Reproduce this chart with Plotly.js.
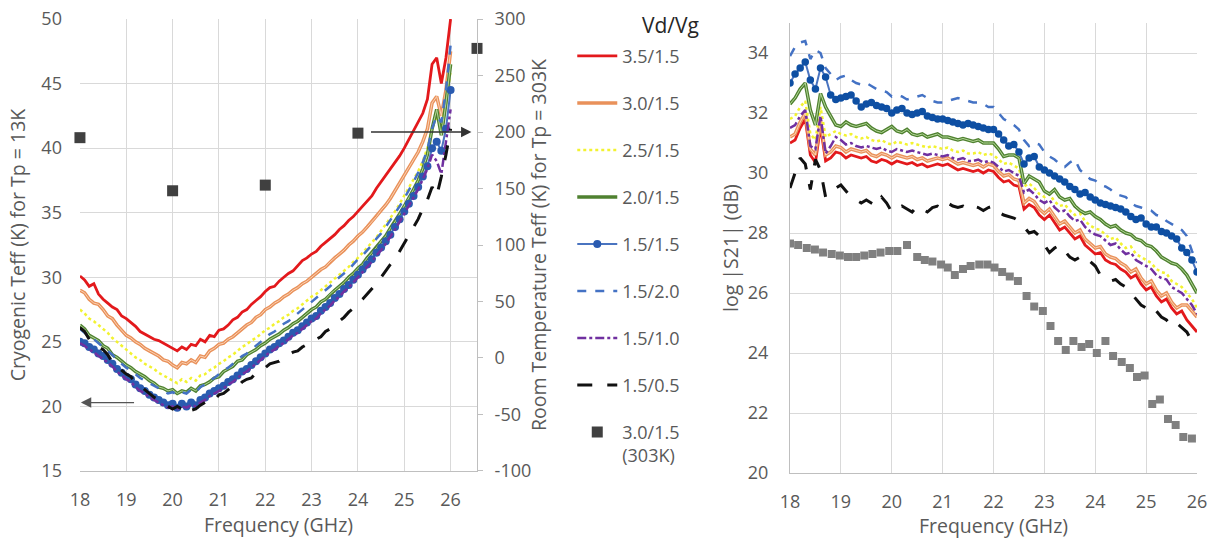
<!DOCTYPE html>
<html>
<head>
<meta charset="utf-8">
<script src="https://cdn.plot.ly/plotly-3.0.1.min.js"></script>
<style>html,body{margin:0;padding:0;background:#fff;}#chart{width:1215px;height:539px;}</style>
</head>
<body>
<div id="chart"></div>
<script>
// ---------- DATA ----------
const freq = [18.0,18.1,18.2,18.3,18.4,18.5,18.6,18.7,18.8,18.9,19.0,19.1,19.2,19.3,19.4,19.5,19.6,19.7,19.8,19.9,
20.0,20.1,20.2,20.3,20.4,20.5,20.6,20.7,20.8,20.9,21.0,21.1,21.2,21.3,21.4,21.5,21.6,21.7,21.8,21.9,
22.0,22.1,22.2,22.3,22.4,22.5,22.6,22.7,22.8,22.9,23.0,23.1,23.2,23.3,23.4,23.5,23.6,23.7,23.8,23.9,
24.0,24.1,24.2,24.3,24.4,24.5,24.6,24.7,24.8,24.9,25.0,25.1,25.2,25.3,25.4,25.5,25.6,25.7,25.8,25.9,26.0];

const seriesNames = ["3.5/1.5","3.0/1.5","2.5/1.5","2.0/1.5","1.5/1.5","1.5/2.0","1.5/1.0","1.5/0.5"];

// Cryogenic Teff (K), left panel
const teff_35_15 = [30.1,29.8,29.3,29.5,28.7,28.3,28.0,27.7,27.5,27.0,26.8,26.5,26.2,25.8,25.6,25.4,25.2,25.1,24.9,24.7,
24.5,24.3,24.6,24.4,24.8,24.7,25.2,25.0,25.5,25.4,25.9,26.0,26.3,26.7,26.9,27.3,27.5,27.9,28.2,28.5,
28.9,29.2,29.3,29.7,30.0,30.3,30.5,30.9,31.3,31.5,31.8,32.0,32.4,32.7,33.0,33.3,33.7,34.0,34.4,34.7,
35.1,35.5,35.9,36.3,36.9,37.4,37.9,38.4,38.9,39.4,40.0,40.7,41.3,42.0,42.7,43.8,46.5,47.0,45.0,47.0,50.0];
const teff_30_15 = [29.0,28.8,28.3,28.0,27.9,27.5,27.0,26.8,26.3,25.9,25.5,25.3,25.0,24.8,24.5,24.3,24.1,23.9,23.6,23.5,
23.2,23.0,23.4,23.3,23.6,23.4,23.9,23.8,24.3,24.5,24.8,24.9,25.2,25.4,25.7,26.0,26.3,26.5,26.9,27.1,
27.5,27.7,28.0,28.2,28.5,28.7,29.0,29.2,29.5,29.7,30.0,30.3,30.6,30.8,31.2,31.5,31.8,32.1,32.5,32.8,
33.2,33.5,33.9,34.3,34.7,35.2,35.6,36.1,36.7,37.2,37.8,38.4,39.0,39.7,40.5,41.5,43.5,44.0,42.5,44.5,47.5];
const teff_25_15 = [27.5,27.2,26.8,26.6,26.3,26.0,25.7,25.3,25.0,24.7,24.4,24.1,23.8,23.6,23.3,23.1,22.9,22.6,22.4,22.2,
22.0,21.8,22.1,21.9,22.2,22.0,22.4,22.5,22.8,23.0,23.3,23.5,23.8,24.0,24.3,24.6,24.8,25.1,25.3,25.6,
25.9,26.1,26.4,26.6,26.9,27.1,27.4,27.6,27.9,28.2,28.5,28.7,29.0,29.3,29.6,29.9,30.2,30.5,30.8,31.2,
31.5,31.9,32.3,32.7,33.1,33.6,34.1,34.6,35.1,35.7,36.3,36.9,37.5,38.2,39.0,40.0,41.5,42.5,41.5,43.5,46.0];
const teff_20_15 = [26.3,26.0,25.5,25.3,25.1,24.7,24.5,24.0,23.8,23.5,23.2,23.0,22.7,22.5,22.3,22.0,21.8,21.5,21.4,21.2,
21.3,21.0,21.2,21.1,21.4,21.2,21.6,21.7,21.9,22.2,22.3,22.7,22.9,23.1,23.5,23.6,24.0,24.2,24.4,24.7,
24.9,25.2,25.4,25.6,25.9,26.1,26.4,26.6,26.9,27.2,27.5,27.7,28.1,28.3,28.7,29.0,29.3,29.6,30.0,30.3,
30.7,31.0,31.5,31.9,32.3,32.8,33.2,33.8,34.3,34.9,35.5,36.1,36.8,37.5,38.4,39.5,41.5,43.0,41.0,43.5,46.5];
const teff_15_15 = [25.0,24.9,24.6,24.4,24.1,23.9,23.6,23.3,22.9,22.6,22.3,22.1,21.7,21.4,21.2,20.9,20.7,20.5,20.3,20.1,
20.2,19.9,20.2,20.0,20.3,20.1,20.5,20.7,21.0,21.2,21.4,21.6,21.9,22.1,22.4,22.7,22.9,23.2,23.5,23.8,
24.1,24.4,24.6,24.9,25.1,25.4,25.7,25.9,26.2,26.5,26.8,27.0,27.4,27.7,28.0,28.4,28.7,29.1,29.4,29.8,
30.2,30.6,31.0,31.4,31.9,32.3,32.8,33.3,33.9,34.5,35.1,35.7,36.3,37.0,37.8,38.6,40.0,40.5,39.8,41.5,44.5];
const teff_15_20 = [26.0,25.7,25.4,25.2,24.9,24.6,24.3,24.0,23.6,23.3,23.0,22.8,22.5,22.2,22.0,21.8,21.6,21.4,21.2,21.0,
21.1,20.9,21.1,21.0,21.3,21.1,21.5,21.7,22.0,22.2,22.5,22.8,23.0,23.3,23.6,23.9,24.1,24.4,24.7,25.0,
25.3,25.6,25.8,26.1,26.4,26.6,26.9,27.2,27.5,27.8,28.1,28.4,28.7,29.0,29.3,29.7,30.0,30.3,30.6,31.0,
31.4,31.7,32.1,32.5,33.0,33.4,33.9,34.4,35.0,35.5,36.1,36.7,37.4,38.1,38.9,39.9,41.5,42.5,42.0,44.5,48.0];
const teff_15_10 = [24.9,24.7,24.4,24.2,23.9,23.7,23.4,23.1,22.7,22.4,22.1,21.9,21.5,21.2,21.0,20.7,20.5,20.3,20.1,19.9,
20.0,19.8,20.0,19.9,20.1,20.0,20.3,20.5,20.8,21.0,21.2,21.4,21.7,21.9,22.2,22.5,22.7,23.0,23.3,23.6,
23.9,24.2,24.4,24.7,24.9,25.2,25.5,25.7,26.0,26.3,26.6,26.8,27.2,27.5,27.8,28.2,28.5,28.9,29.2,29.6,
30.0,30.4,30.8,31.2,31.7,32.1,32.6,33.1,33.7,34.3,34.9,35.5,36.1,36.8,37.6,38.4,39.5,39.0,38.0,40.5,43.0];
const teff_15_05 = [26.1,25.8,25.2,25.0,24.6,24.4,24.0,23.4,23.1,22.8,22.5,22.3,21.8,21.6,21.3,21.0,20.7,20.5,20.2,20.0,
19.8,20.0,19.8,20.1,19.7,19.8,20.1,20.3,20.6,20.5,20.9,21.0,21.3,21.6,21.5,21.9,22.1,22.2,22.6,22.8,
23.0,23.3,23.4,23.5,23.8,24.0,24.2,24.3,24.6,24.8,25.1,25.2,25.4,25.8,26.0,26.3,26.6,26.9,27.3,27.6,
28.0,28.3,28.7,29.1,29.5,30.0,30.5,31.0,31.4,32.0,32.6,33.2,33.8,34.5,35.3,36.0,37.0,36.3,37.8,39.5,41.5];

// Room temperature Teff (K), 3.0/1.5 at 303K (right axis of left panel)
const warmFreq = [18, 20, 22, 24, 26.57];
const warmTeff = [195, 148, 153, 199, 274];
const roomTickVals = [-100,-50,0,50,100,150,200,250,300];
const roomTickText = ["-100","-50","0","50","100","150","200","250","300"];

// log|S21| (dB), right panel
const s21_35_15 = [31.0,31.1,31.5,31.8,30.6,30.35,31.55,30.4,30.5,30.7,30.65,30.5,30.6,30.55,30.5,30.55,30.4,30.35,30.45,30.4,
30.3,30.4,30.35,30.3,30.35,30.25,30.3,30.2,30.25,30.3,30.25,30.3,30.2,30.1,30.15,30.1,30.05,30.1,30.0,30.1,
30.05,29.85,29.7,29.75,29.6,29.55,28.8,28.95,28.85,28.6,28.45,28.6,28.35,28.1,28.2,28.0,27.8,27.9,27.6,27.45,
27.3,27.35,27.1,27.0,26.95,26.8,26.7,26.5,26.6,26.3,26.1,26.2,25.9,25.7,25.8,25.5,25.3,25.4,25.1,24.9,24.7];
const s21_30_15 = [31.2,31.3,31.7,32.0,30.8,30.6,31.75,30.6,30.7,30.9,30.85,30.7,30.8,30.75,30.7,30.75,30.6,30.55,30.65,30.6,
30.5,30.6,30.55,30.5,30.55,30.45,30.5,30.4,30.45,30.5,30.45,30.5,30.4,30.3,30.35,30.3,30.25,30.3,30.2,30.3,
30.25,30.05,29.9,29.95,29.8,29.75,29.0,29.15,29.05,28.8,28.65,28.8,28.55,28.3,28.4,28.2,28.0,28.1,27.8,27.65,
27.5,27.55,27.3,27.2,27.15,27.0,26.9,26.7,26.8,26.5,26.3,26.4,26.1,25.9,26.0,25.7,25.5,25.6,25.6,25.4,25.2];
const s21_25_15 = [31.8,31.9,32.2,32.4,31.3,31.1,32.2,31.2,31.3,31.4,31.3,31.25,31.3,31.2,31.15,31.2,31.1,31.05,31.1,31.0,
30.95,31.05,31.0,30.95,31.0,30.95,30.9,30.85,30.9,30.85,30.8,30.85,30.75,30.7,30.75,30.65,30.65,30.7,30.6,30.65,
30.6,30.45,30.3,30.35,30.25,30.15,29.55,29.65,29.5,29.3,29.2,29.3,29.05,28.9,28.95,28.75,28.6,28.65,28.4,28.25,
28.15,28.1,27.95,27.8,27.85,27.65,27.5,27.55,27.3,27.2,27.1,27.0,26.8,26.7,26.65,26.4,26.3,26.2,26.0,25.8,25.5];
const s21_20_15 = [32.3,32.5,32.8,33.0,32.1,31.6,32.65,32.2,31.9,31.6,31.55,31.7,31.6,31.55,31.6,31.65,31.5,31.4,31.35,31.45,
31.55,31.4,31.35,31.45,31.3,31.25,31.3,31.2,31.25,31.3,31.2,31.2,31.15,31.1,31.15,31.1,31.05,31.1,31.0,31.0,
31.0,30.8,30.55,30.6,30.6,30.5,29.65,29.9,29.8,29.7,29.4,29.3,29.45,29.2,29.1,29.15,28.9,28.75,28.65,28.7,
28.55,28.45,28.3,28.2,28.25,28.1,28.0,27.95,27.8,27.75,27.6,27.55,27.4,27.2,27.1,27.0,26.95,26.8,26.6,26.3,26.0];
const s21_15_15 = [33.0,33.3,33.5,33.7,33.1,32.8,33.5,33.2,32.6,32.45,32.5,32.55,32.6,32.4,32.2,32.3,32.35,32.25,32.2,32.15,
32.0,32.1,32.15,32.0,31.95,32.0,32.05,31.9,31.85,31.8,31.8,31.75,31.7,31.65,31.6,31.65,31.6,31.55,31.5,31.45,
31.45,31.3,31.1,30.9,30.95,30.7,30.3,30.5,30.55,30.2,30.1,30.0,29.9,29.8,29.7,29.55,29.45,29.3,29.35,29.2,
29.1,29.0,28.95,28.9,28.85,28.8,28.7,28.55,28.45,28.5,28.3,28.2,28.2,28.05,28.0,27.9,27.8,27.5,27.35,27.1,26.7];
const s21_15_20 = [33.9,34.2,34.35,34.4,33.8,34.1,34.0,33.5,33.3,33.1,33.2,33.25,33.1,33.0,32.95,33.0,32.9,32.8,32.75,32.7,
32.55,32.6,32.55,32.45,32.5,32.55,32.6,32.5,32.4,32.35,32.35,32.4,32.45,32.5,32.45,32.4,32.35,32.35,32.3,32.2,
32.2,32.0,31.8,31.7,31.6,31.45,31.1,30.9,31.0,30.95,30.7,30.55,30.45,30.3,30.2,30.35,30.45,30.1,29.95,29.8,
29.75,29.6,29.55,29.45,29.3,29.25,29.2,29.0,28.9,28.85,28.8,28.75,28.6,28.55,28.4,28.3,28.2,28.1,27.9,27.4,27.0];
const s21_15_10 = [31.5,31.6,31.9,32.1,30.9,30.8,31.9,30.65,30.9,31.2,31.1,30.95,31.0,30.9,30.85,30.9,30.85,30.8,30.85,30.75,
30.7,30.8,30.75,30.7,30.75,30.7,30.65,30.6,30.65,30.6,30.55,30.6,30.5,30.45,30.5,30.4,30.4,30.45,30.35,30.4,
30.35,30.2,30.05,30.1,30.0,29.9,29.35,29.45,29.3,29.1,29.0,29.1,28.85,28.7,28.75,28.55,28.4,28.45,28.2,28.05,
27.95,27.9,27.75,27.6,27.65,27.45,27.3,27.35,27.1,27.0,26.9,26.8,26.6,26.5,26.45,26.2,26.1,26.0,25.8,25.6,25.3];
const s21_15_05 = [29.5,30.0,30.5,30.3,29.45,30.45,30.1,29.2,29.4,29.5,29.6,29.4,29.2,29.1,29.0,29.1,29.0,28.9,29.2,29.0,
28.7,28.8,28.9,28.8,28.7,28.9,28.8,28.7,28.85,28.9,28.8,29.0,28.9,28.85,28.9,28.8,28.9,28.85,28.75,28.85,
28.9,28.7,28.6,28.55,28.5,28.4,28.2,28.0,28.05,27.9,27.6,27.35,27.5,27.6,27.4,27.2,27.1,27.2,27.0,27.05,
26.9,26.6,26.5,26.4,26.45,26.3,26.2,26.0,25.8,25.6,25.5,25.3,25.4,25.2,25.1,24.9,25.0,24.85,24.7,24.4,24.2];

// log|S21| 3.0/1.5 at 303K
const warmS21Freq = [18.0,18.16,18.33,18.49,18.65,18.82,18.98,19.14,19.3,19.46,19.62,19.78,19.95,20.11,20.3,20.5,20.65,20.8,20.97,21.1,
21.24,21.4,21.55,21.72,21.88,22.02,22.17,22.32,22.48,22.65,22.8,22.97,23.12,23.27,23.42,23.57,23.73,23.88,24.03,24.2,
24.35,24.52,24.68,24.82,24.97,25.12,25.27,25.43,25.58,25.73,25.9];
const warmS21 = [27.65,27.6,27.5,27.45,27.35,27.3,27.25,27.2,27.2,27.25,27.3,27.35,27.4,27.4,27.6,27.2,27.1,27.05,26.95,26.85,
26.6,26.8,26.9,26.95,26.95,26.85,26.7,26.55,26.4,25.9,25.55,25.4,24.9,24.4,24.1,24.4,24.2,24.3,24.0,24.4,
23.9,23.7,23.5,23.2,23.25,22.3,22.45,21.8,21.6,21.2,21.15];

const xTicks = [18,19,20,21,22,23,24,25,26];

// ---------- STYLES ----------
const FONT = "Open Sans, Noto Sans, sans-serif";
const TXT = "#595959";
const GRID = "#D9D9D9";

const teffL = [teff_35_15, teff_30_15, teff_25_15, teff_20_15, teff_15_15, teff_15_20, teff_15_10, teff_15_05];
const s21R = [s21_35_15, s21_30_15, s21_25_15, s21_20_15, s21_15_15, s21_15_20, s21_15_10, s21_15_05];
const styles = [
  {line:{color:"#E3191C", width:2.8}},
  {line:{color:"#E9915A", width:3.5}, inner:"#FBD3B6"},
  {line:{color:"#F2F230", width:2.5, dash:"dot"}},
  {line:{color:"#4F8130", width:3.5}, inner:"#B5D89A"},
  {line:{color:"#4A74C0", width:2}, marker:{color:"#2A5BB0", size:8}},
  {line:{color:"#4472C4", width:2.5, dash:"dash"}},
  {line:{color:"#7030A0", width:2.5, dash:"dashdot"}},
  {line:{color:"#111111", width:3, dash:"longdash"}}
];

const traces = [];
seriesNames.forEach((nm, i) => {
  const st = styles[i];
  const base = {
    x: freq, y: teffL[i], name: nm, type: "scatter",
    mode: st.marker ? "lines+markers" : "lines",
    line: st.line, legendgroup: "g"+i, xaxis: "x", yaxis: "y", showlegend: true
  };
  if (st.marker) base.marker = st.marker;
  traces.push(base);
  if (st.inner) traces.push({x: freq, y: teffL[i], mode:"lines", line:{color:st.inner, width:1},
     legendgroup:"g"+i, showlegend:false, xaxis:"x", yaxis:"y", hoverinfo:"skip"});
});
// right panel
seriesNames.forEach((nm, i) => {
  const st = styles[i];
  const t = {
    x: freq, y: s21R[i], name: nm, type: "scatter",
    mode: st.marker ? "lines+markers" : "lines",
    line: st.line, legendgroup: "g"+i, xaxis: "x2", yaxis: "y3", showlegend: false
  };
  if (st.marker) t.marker = {color:"#0E4FA3", size:7.5};
  traces.push(t);
  if (st.inner) traces.push({x: freq, y: s21R[i], mode:"lines", line:{color:st.inner, width:1},
     legendgroup:"g"+i, showlegend:false, xaxis:"x2", yaxis:"y3", hoverinfo:"skip"});
});
traces.push({x: warmFreq, y: warmTeff, name: "3.0/1.5<br>(303K)", mode:"markers",
  marker:{symbol:"square", color:"#404040", size:11}, legendgroup:"g8",
  xaxis:"x", yaxis:"y2", cliponaxis:false});
traces.push({x: warmS21Freq, y: warmS21, name: "3.0/1.5 (303K)", mode:"markers",
  marker:{symbol:"square", color:"#808080", size:8}, legendgroup:"g8", showlegend:false,
  xaxis:"x2", yaxis:"y3"});

const tickFont = {family: FONT, size: 18, color: TXT};
const titleFont = {family: FONT, size: 19.5, color: TXT};

const layout = {
  width: 1215, height: 539,
  margin: {l:0, r:0, t:0, b:0},
  paper_bgcolor: "#fff", plot_bgcolor: "#fff",
  font: {family: FONT, color: TXT},
  showlegend: true,
  legend: {x: 0.471, y: 0.93, xanchor:"left", yanchor:"top", traceorder:"grouped", valign:"top",
    tracegroupgap: 20.6, font:{family:FONT, size:18, color:TXT}, bgcolor:"rgba(0,0,0,0)", itemwidth:40},
  xaxis: {domain:[0.0658, 0.3926], range:[18, 26.57], tickvals: xTicks, showgrid:true, gridcolor:GRID,
    showline:true, linecolor:"#BFBFBF", zeroline:false, ticks:"", tickfont:tickFont, automargin:false,
    ticklabelstandoff: 12, anchor:"y",
    title:{text:"Frequency (GHz)", font:titleFont, standoff: 1}},
  yaxis: {domain:[0.1262, 0.9647], range:[15, 50], dtick:5, tick0:15, showgrid:true, gridcolor:GRID,
    showline:false, zeroline:false, ticks:"", tickfont:tickFont, automargin:false, ticklabelstandoff: 17,
    anchor:"x", title:{text:"Cryogenic Teff (K) for Tp = 13K", font:titleFont, standoff: 10}},
  yaxis2: {overlaying:"y", side:"right", anchor:"x", range:[-100, 300],
    tickvals: roomTickVals, ticktext: roomTickText,
    showgrid:false, showline:true, linecolor:"#BFBFBF", zeroline:false, ticks:"outside", ticklen:5,
    tickcolor:"#BFBFBF", tickfont:tickFont, automargin:false, ticklabelstandoff: 8,
    title:{text:"Room Temperature Teff (K) for Tp = 303K", font:titleFont, standoff: 1}},
  xaxis2: {domain:[0.6502, 0.9852], range:[18, 26], tickvals: xTicks, showgrid:true, gridcolor:GRID,
    showline:true, linecolor:"#BFBFBF", zeroline:false, ticks:"", tickfont:tickFont, automargin:false,
    ticklabelstandoff: 12, anchor:"y3",
    title:{text:"Frequency (GHz)", font:titleFont, standoff: 1}},
  yaxis3: {domain:[0.1224, 0.9573], range:[20, 35], tickvals:[20,22,24,26,28,30,32,34], showgrid:true,
    gridcolor:GRID, showline:true, linecolor:"#BFBFBF", zeroline:false, ticks:"", tickfont:tickFont,
    automargin:false, ticklabelstandoff: 17, anchor:"x2",
    title:{text:"log |S21| (dB)", font:titleFont, standoff: 3}},
  annotations: [
    {xref:"paper", yref:"paper", x: 640/1215, y: 1-25/539, xanchor:"left", yanchor:"middle",
     text:"Vd/Vg", showarrow:false, font:{family:FONT, size:21, color:"#262626"}},
    {xref:"x", yref:"y", x:18.02, y:20.3, axref:"x", ayref:"y", ax:19.2, ay:20.3, showarrow:true,
     arrowhead:2, arrowsize:1.6, arrowwidth:1.3, arrowcolor:"#555", text:""},
    {xref:"x", yref:"y2", x:26.45, y:200, axref:"x", ayref:"y2", ax:24.25, ay:200, showarrow:true,
     arrowhead:2, arrowsize:1.6, arrowwidth:1.3, arrowcolor:"#333", text:""}
  ]
};

Plotly.newPlot("chart", traces, layout, {displayModeBar:false, staticPlot:true});
</script>
</body>
</html>
